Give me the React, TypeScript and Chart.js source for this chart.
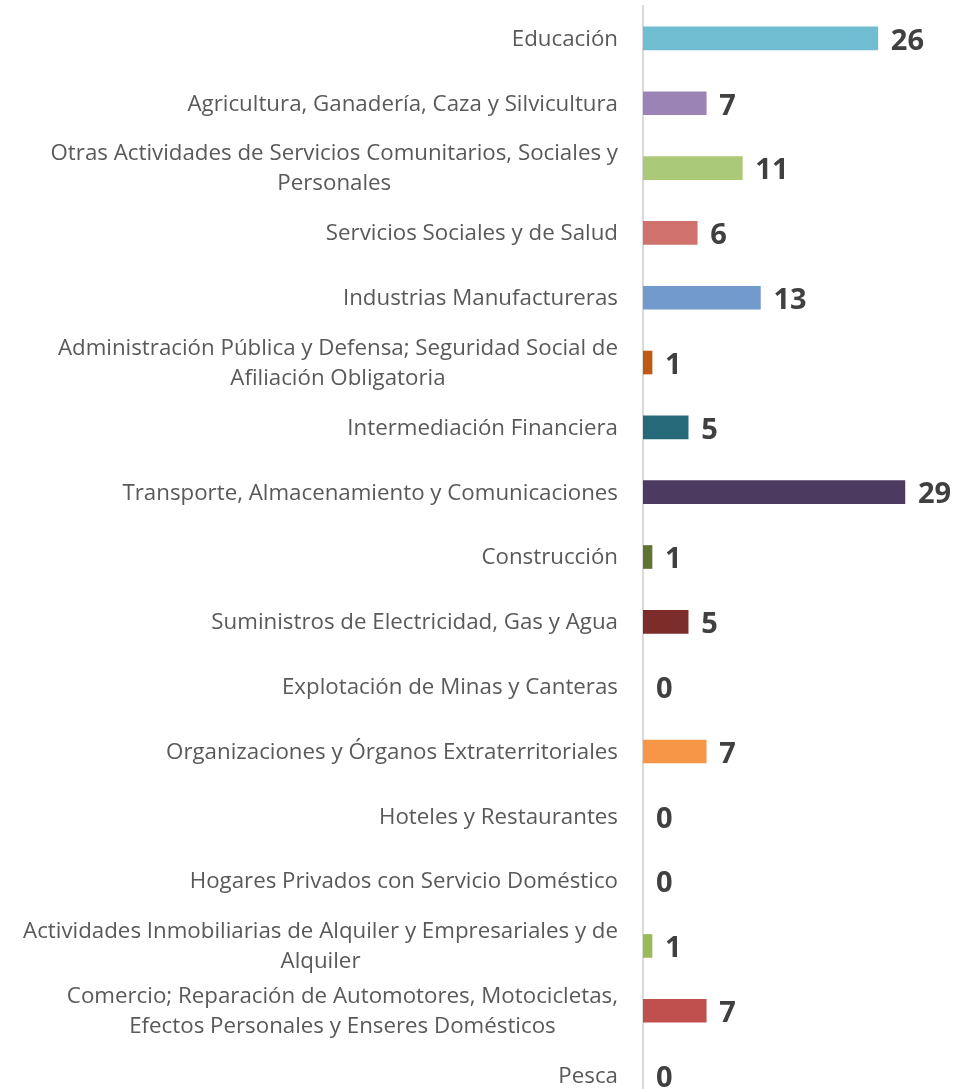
import React, { useEffect, useRef } from "react";
import { Chart, registerables } from "chart.js";

Chart.register(...registerables);

const categories: string[][] = [
  ["Educación"],
  ["Agricultura, Ganadería, Caza y Silvicultura"],
  ["Otras Actividades de Servicios Comunitarios, Sociales y", "Personales"],
  ["Servicios Sociales y de Salud"],
  ["Industrias Manufactureras"],
  ["Administración Pública y Defensa; Seguridad Social de", "Afiliación Obligatoria"],
  ["Intermediación Financiera"],
  ["Transporte, Almacenamiento y Comunicaciones"],
  ["Construcción"],
  ["Suministros de Electricidad, Gas y Agua"],
  ["Explotación de Minas y Canteras"],
  ["Organizaciones y Órganos Extraterritoriales"],
  ["Hoteles y Restaurantes"],
  ["Hogares Privados con Servicio Doméstico"],
  ["Actividades Inmobiliarias de Alquiler y Empresariales y de", "Alquiler"],
  ["Comercio; Reparación de Automotores, Motocicletas,", "Efectos Personales y Enseres Domésticos"],
  ["Pesca"],
];

const values: number[] = [26, 7, 11, 6, 13, 1, 5, 29, 1, 5, 0, 7, 0, 0, 1, 7, 0];

const barColors: string[] = [
  "#70bcd1",
  "#9b83b6",
  "#abca79",
  "#d0716e",
  "#739acc",
  "#c05911",
  "#266a7a",
  "#4d3a60",
  "#5e7531",
  "#7b2c2b",
  "rgba(0,0,0,0)",
  "#f79646",
  "rgba(0,0,0,0)",
  "rgba(0,0,0,0)",
  "#9bbb59",
  "#c0504d",
  "rgba(0,0,0,0)",
];

const CANVAS_W = 957;
const CANVAS_H = 1110;

const labelFont = '22.3px "Open Sans"';
const valueFont = 'bold 29px "Open Sans"';

const categoryLabelPlugin = {
  id: "categoryLabels",
  afterDraw(chart: any) {
    const ctx: CanvasRenderingContext2D = chart.ctx;
    const yScale = chart.scales.y;
    const area = chart.chartArea;
    const rightEdge = area.left - 25;
    const lineH = 30;
    ctx.save();
    ctx.font = labelFont;
    ctx.fillStyle = "#595959";
    ctx.textBaseline = "middle";
    ctx.textAlign = "center";
    (chart.data.labels as string[][]).forEach((lines, i) => {
      const yc = yScale.getPixelForValue(i) + 1;
      const blockW = Math.max(...lines.map((l) => ctx.measureText(l).width));
      const cx = rightEdge - blockW / 2;
      const y0 = yc - ((lines.length - 1) * lineH) / 2;
      lines.forEach((l, j) => ctx.fillText(l, cx, y0 + j * lineH));
    });
    ctx.restore();
  },
};

const valueLabelPlugin = {
  id: "valueLabels",
  afterDatasetsDraw(chart: any) {
    const ctx: CanvasRenderingContext2D = chart.ctx;
    const meta = chart.getDatasetMeta(0);
    ctx.save();
    ctx.font = valueFont;
    ctx.fillStyle = "#404040";
    ctx.textBaseline = "middle";
    ctx.textAlign = "left";
    meta.data.forEach((bar: any, i: number) => {
      const v = chart.data.datasets[0].data[i];
      ctx.fillText(String(v), bar.x + 13, bar.y + 3);
    });
    ctx.restore();
  },
};

export default function App() {
  const ref = useRef<HTMLCanvasElement>(null);

  useEffect(() => {
    let chart: Chart | null = null;
    let cancelled = false;
    const make = () => {
      if (cancelled || !ref.current) return;
      chart = new Chart(ref.current, {
        type: "bar",
        data: {
          labels: categories as any,
          datasets: [
            {
              data: values,
              backgroundColor: barColors,
              borderWidth: 0,
              barThickness: 23,
            },
          ],
        },
        options: {
          indexAxis: "y",
          responsive: false,
          animation: false,
          layout: { padding: { left: 643, right: 25, top: 6, bottom: 2 } },
          plugins: {
            legend: { display: false },
            tooltip: { enabled: false },
          },
          scales: {
            x: { type: "linear", min: 0, max: 32, display: false },
            y: {
              type: "category",
              offset: true,
              ticks: { display: false },
              grid: { display: false, drawTicks: false },
              border: { display: true, color: "#d9d9d9", width: 2 },
            },
          },
        },
        plugins: [categoryLabelPlugin, valueLabelPlugin],
      });
    };
    const fonts: any = (document as any).fonts;
    const ready = fonts
      ? Promise.all([fonts.load(labelFont), fonts.load(valueFont)]).catch(() => null)
      : Promise.resolve(null);
    ready.then(make);
    return () => {
      cancelled = true;
      if (chart) chart.destroy();
    };
  }, []);

  return (
    <div
      style={{
        position: "fixed",
        left: 0,
        top: 0,
        width: CANVAS_W,
        height: 1089,
        overflow: "hidden",
        background: "#ffffff",
      }}
    >
      <canvas
        ref={ref}
        width={CANVAS_W}
        height={CANVAS_H}
        style={{ display: "block", width: CANVAS_W, height: CANVAS_H }}
      />
    </div>
  );
}
